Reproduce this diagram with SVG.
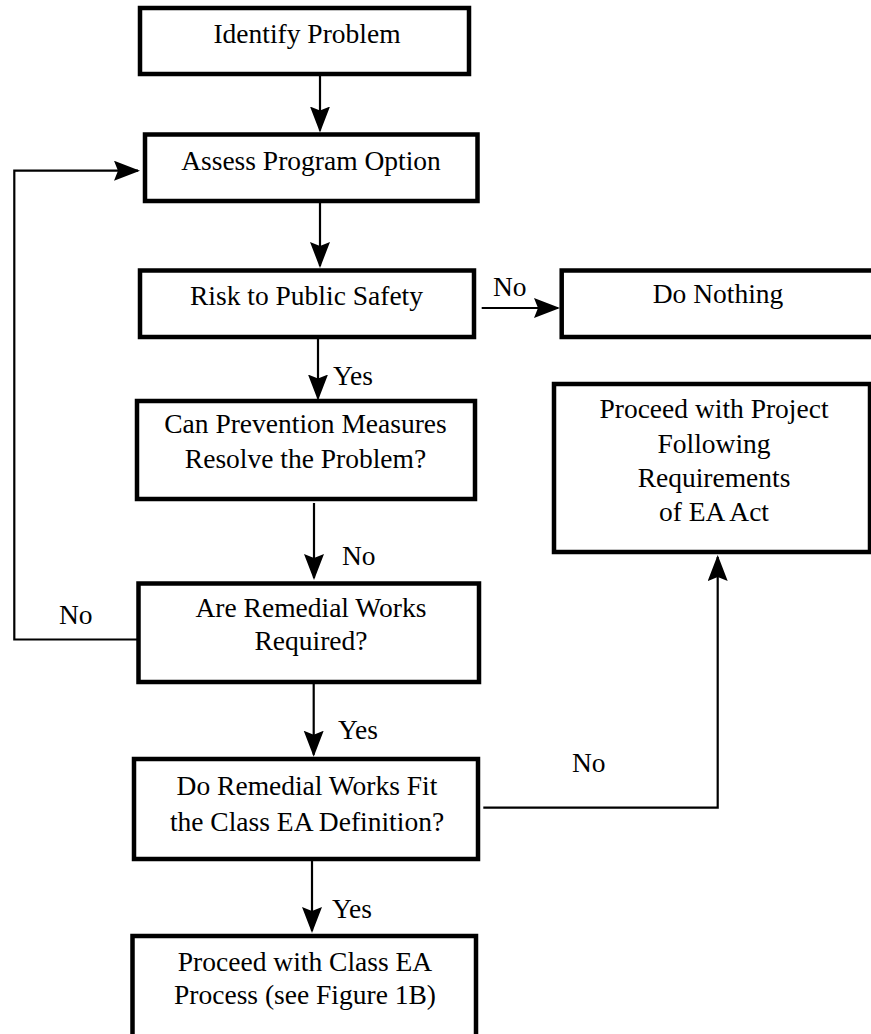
<svg xmlns="http://www.w3.org/2000/svg" width="871" height="1034" viewBox="0 0 871 1034">
<style>
.box{fill:#fff;stroke:#000;stroke-width:4.5}
text{font-family:'Liberation Serif',Tinos,'Times New Roman',Times,'DejaVu Serif',serif;font-size:27.5px;fill:#000}
.t{text-anchor:middle}
.c{fill:none;stroke:#000;stroke-width:2.2;marker-end:url(#ah)}
</style>
<defs>
<marker id="ah" markerUnits="userSpaceOnUse" markerWidth="28" markerHeight="22" refX="24" refY="10" orient="auto">
<path d="M0,0 L26,10 L0,20 L4,10 Z" fill="#000"/>
</marker>
</defs>
<rect width="871" height="1034" fill="#fff"/>
<g id="connectors">
<line class="c" x1="320" y1="72" x2="320" y2="130.5"/>
<line class="c" x1="320" y1="203" x2="320" y2="266"/>
<line class="c" x1="481.7" y1="308" x2="558" y2="308"/>
<line class="c" x1="318" y1="332" x2="318" y2="398.5"/>
<line class="c" x1="314" y1="503" x2="314" y2="578"/>
<line class="c" x1="313.7" y1="683" x2="313.7" y2="754.7"/>
<line class="c" x1="312" y1="853" x2="312" y2="931"/>
<path class="c" d="M137,639.5 H14.3 V170.7 H138"/>
<path class="c" d="M483.3,807.7 H717.7 V557"/>
<text x="493" y="296">No</text>
<text x="333" y="385">Yes</text>
<text x="342" y="565">No</text>
<text x="59" y="624">No</text>
<text x="338" y="739">Yes</text>
<text x="572" y="772">No</text>
<text x="332" y="918">Yes</text>
</g>
<g id="identify">
<rect class="box" x="140" y="8" width="329" height="66"/>
<text class="t" x="307" y="43">Identify Problem</text>
</g>
<g id="assess">
<rect class="box" x="145" y="134.5" width="332.5" height="66.5"/>
<text class="t" x="311" y="170">Assess Program Option</text>
</g>
<g id="risk">
<rect class="box" x="140" y="270.5" width="334" height="66.5"/>
<text class="t" x="306.5" y="305">Risk to Public Safety</text>
</g>
<g id="nothing">
<rect class="box" x="561.7" y="270.5" width="320" height="66.5"/>
<text class="t" x="718" y="303">Do Nothing</text>
</g>
<g id="prevention">
<rect class="box" x="137" y="401" width="338" height="98"/>
<text class="t" x="305.5" y="433">Can Prevention Measures</text>
<text class="t" x="305.5" y="468">Resolve the Problem?</text>
</g>
<g id="project">
<rect class="box" x="554" y="384" width="316" height="168"/>
<text class="t" x="714" y="418">Proceed with Project</text>
<text class="t" x="714" y="453">Following</text>
<text class="t" x="714" y="487">Requirements</text>
<text class="t" x="714" y="521">of EA Act</text>
</g>
<g id="remedial">
<rect class="box" x="138.5" y="583.5" width="340.5" height="98.5"/>
<text class="t" x="311" y="617">Are Remedial Works</text>
<text class="t" x="311" y="650">Required?</text>
</g>
<g id="fit">
<rect class="box" x="134" y="759" width="344" height="100"/>
<text class="t" x="307" y="795">Do Remedial Works Fit</text>
<text class="t" x="307" y="831">the Class EA Definition?</text>
</g>
<g id="classea">
<rect class="box" x="132.5" y="936" width="343.5" height="110"/>
<text class="t" x="305" y="971">Proceed with Class EA</text>
<text class="t" x="305" y="1004">Process (see Figure 1B)</text>
</g>
</svg>
